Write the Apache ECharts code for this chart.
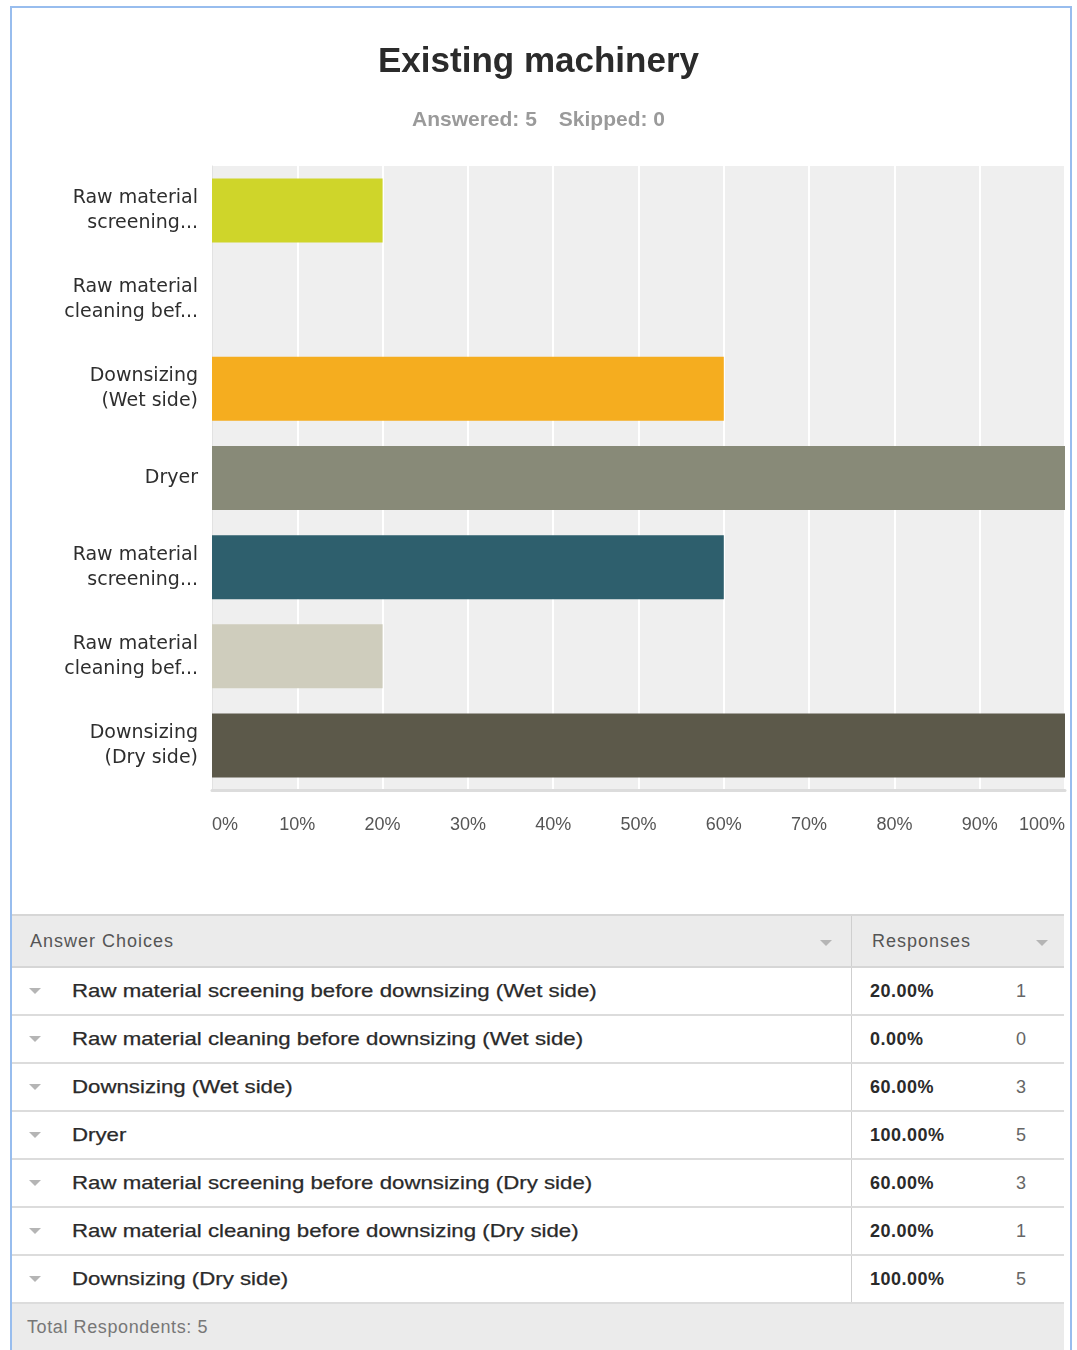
<!DOCTYPE html>
<html>
<head>
<meta charset="utf-8">
<title>Existing machinery</title>
<script src="https://cdn.jsdelivr.net/npm/echarts@6/dist/echarts.min.js"></script>
<style>
  html, body { margin: 0; padding: 0; background: #fff; }
  body { width: 1077px; height: 1350px; position: relative; overflow: hidden; }
  #frame {
    position: absolute; left: 10px; top: 6px; width: 1062px; height: 1360px;
    border: 2px solid #98bdee; border-bottom: none; box-sizing: border-box;
  }
  #chart { position: absolute; left: 0; top: 0; width: 1077px; height: 900px; }
  #table {
    position: absolute; left: 12px; top: 914px; width: 1052px;
    border-collapse: collapse; font-family: "Liberation Sans", Arial, sans-serif;
  }
  #table th, #table td { padding: 0; }
  #table thead tr { background: #ebebeb; height: 52px; border-top: 2px solid #d6d6d6; border-bottom: 2px solid #d6d6d6; }
  #table th { font-weight: normal; color: #555; font-size: 18px; letter-spacing: 1px; text-align: left; position: relative; }
  #table tbody tr { height: 48px; border-bottom: 2px solid #dcdcdc; }
  #table td { font-size: 19px; color: #2a2a2a; }
  .caret { display: inline-block; width: 0; height: 0; border-left: 6px solid transparent; border-right: 6px solid transparent; border-top: 6px solid #b5b5b5; vertical-align: middle; }
  .choice { padding-left: 17px !important; border-right: 1px solid #cfcfcf; width: 822px; white-space: nowrap; }
  .choice .caret { margin-right: 31px; }
  .choice .txt { display: inline-block; transform: scaleX(1.17); transform-origin: left center; -webkit-text-stroke: 0.25px #2a2a2a; vertical-align: middle; }
  .pct { padding-left: 18px !important; font-weight: bold; font-size: 18px !important; letter-spacing: 0.5px; width: 146px; }
  .cnt { color: #666 !important; font-size: 18px !important; }
  #table tfoot tr { background: #ebebeb; height: 48px; }
  #table tfoot td { color: #777; font-size: 18px; padding-left: 15px; letter-spacing: 0.6px; }
  .hcaret { position: absolute; top: 24px; }
</style>
</head>
<body>
<div id="frame"></div>
<div id="chart"></div>
<table id="table">
  <thead>
    <tr>
      <th style="padding-left:18px; border-right:1px solid #cfcfcf;">Answer Choices<span class="caret hcaret" style="left:808px;"></span></th>
      <th colspan="2" style="padding-left:20px;">Responses<span class="caret hcaret" style="left:184px;"></span></th>
    </tr>
  </thead>
  <tbody id="rows"></tbody>
  <tfoot><tr><td colspan="3" id="total"></td></tr></tfoot>
</table>
<script>
// Survey question and summary
const questionTitle = 'Existing machinery';
const answeredCount = 5;
const skippedCount = 0;

// Answer choices: short axis labels and full table labels
const shortLabels = [
  'Raw material\nscreening...',
  'Raw material\ncleaning bef...',
  'Downsizing\n(Wet side)',
  'Dryer',
  'Raw material\nscreening...',
  'Raw material\ncleaning bef...',
  'Downsizing\n(Dry side)'
];
const fullLabels = [
  'Raw material screening before downsizing (Wet side)',
  'Raw material cleaning before downsizing (Wet side)',
  'Downsizing (Wet side)',
  'Dryer',
  'Raw material screening before downsizing (Dry side)',
  'Raw material cleaning before downsizing (Dry side)',
  'Downsizing (Dry side)'
];

// Response shares (%) and counts
const percentValues = [20, 0, 60, 100, 60, 20, 100];
const responseCounts = [1, 0, 3, 5, 3, 1, 5];

// Bar colours, one per answer choice
const barColors = ['#cfd52a', '#b9c1c3', '#f5ad1f', '#888a78', '#2e5f6d', '#cfcdbd', '#5c594a'];

// Percentage axis ticks
const axisMin = 0;
const axisMax = 100;
const axisStep = 10;

const chart = echarts.init(document.getElementById('chart'), null, { renderer: 'canvas' });

chart.setOption({
  animation: false,
  backgroundColor: 'transparent',
  title: {
    text: questionTitle,
    subtext: '{s|Answered: ' + answeredCount + '}{gap|}{s|Skipped: ' + skippedCount + '}',
    left: 'center',
    top: 40,
    itemGap: 30,
    textStyle: { fontFamily: 'Liberation Sans, Arial, sans-serif', fontWeight: 'bold', fontSize: 35, color: '#2b2b2b' },
    subtextStyle: {
      rich: {
        s: { fontFamily: 'Liberation Sans, Arial, sans-serif', fontWeight: 'bold', fontSize: 21, color: '#9a9a9a' },
        gap: { width: 22 }
      }
    }
  },
  grid: {
    left: 212, top: 166, width: 853, height: 624,
    show: true, backgroundColor: '#efefef', borderWidth: 0, containLabel: false
  },
  xAxis: {
    type: 'value',
    min: axisMin, max: axisMax, interval: axisStep,
    axisLine: { show: true, lineStyle: { color: '#dcdcdc', width: 3 } },
    axisTick: { show: false },
    splitLine: { show: true, lineStyle: { color: '#ffffff', width: 2 } },
    axisLabel: {
      formatter: '{value}%',
      margin: 26,
      fontFamily: 'Liberation Sans, Arial, sans-serif',
      fontSize: 18,
      color: '#555',
      alignMinLabel: 'left',
      alignMaxLabel: 'right'
    }
  },
  yAxis: {
    type: 'category',
    inverse: true,
    data: shortLabels,
    axisLine: { show: true, lineStyle: { color: '#e2e2e2', width: 1 } },
    axisTick: { show: false },
    splitLine: { show: false },
    axisLabel: {
      margin: 14,
      fontFamily: 'DejaVu Sans, sans-serif',
      fontSize: 19,
      lineHeight: 25,
      color: '#2e2e2e',
      align: 'right'
    }
  },
  series: [{
    type: 'bar',
    barWidth: 64,
    data: percentValues.map((v, i) => ({ value: v, itemStyle: { color: barColors[i] } })),
    silent: true
  }]
});

// Answer table built from the same data
const tbody = document.getElementById('rows');
fullLabels.forEach((label, i) => {
  const tr = document.createElement('tr');
  tr.innerHTML =
    '<td class="choice"><span class="caret"></span><span class="txt">' + label + '</span></td>' +
    '<td class="pct">' + percentValues[i].toFixed(2) + '%</td>' +
    '<td class="cnt">' + responseCounts[i] + '</td>';
  tbody.appendChild(tr);
});
document.getElementById('total').textContent = 'Total Respondents: ' + answeredCount;
</script>
</body>
</html>
